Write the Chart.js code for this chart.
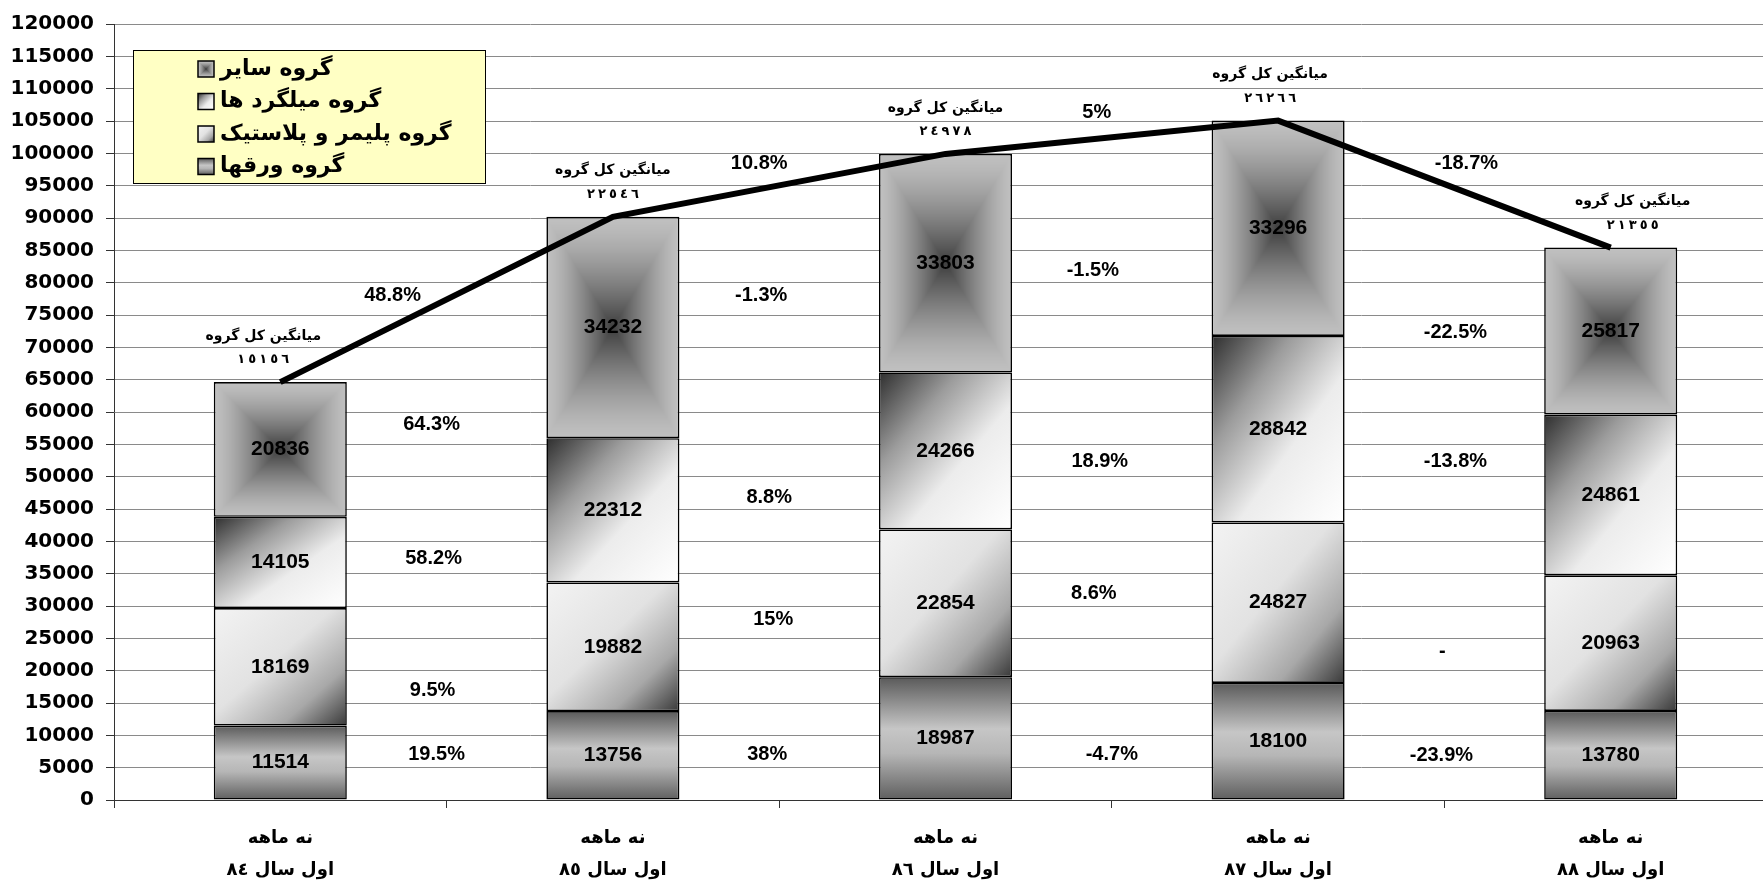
<!DOCTYPE html>
<html>
<head>
<meta charset="utf-8">
<script src="https://cdn.jsdelivr.net/npm/chart.js@4.4.1/dist/chart.umd.min.js"></script>
<style>
    html, body { margin: 0; padding: 0; background: #fff; overflow: hidden; }
    #grafico-wrap { position: relative; width: 1790px; height: 883px; }
</style>
</head>
<body>
<div id="grafico-wrap"><canvas id="grafico"></canvas></div>
<script>
// Categorias (periodos)
var periodYears = ['٨٤', '٨٥', '٨٦', '٨٧', '٨٨'];
var periodLine1 = 'نه ماهه';
var periodLine2 = 'اول سال';

// Series apiladas (de abajo hacia arriba)
var varaghValues = [11514, 13756, 18987, 18100, 13780];
var polymerValues = [18169, 19882, 22854, 24827, 20963];
var milgardValues = [14105, 22312, 24266, 28842, 24861];
var sayerValues = [20836, 34232, 33803, 33296, 25817];
var seriesNames = ['گروه ورقها', 'گروه پلیمر و پلاستیک', 'گروه میلگرد ها', 'گروه سایر'];

// Promedio del grupo encima de cada barra
var averageTitle = 'میانگین کل گروه';
var averageValues = [15156, 22546, 24978, 26266, 21355];

// Crecimiento entre periodos
var growthAverage = ['48.8%', '10.8%', '5%', '-18.7%'];
var growthSayer = ['64.3%', '-1.3%', '-1.5%', '-22.5%'];
var growthMilgard = ['58.2%', '8.8%', '18.9%', '-13.8%'];
var growthPolymer = ['9.5%', '15%', '8.6%', '-'];
var growthVaragh = ['19.5%', '38%', '-4.7%', '-23.9%'];

// Eje Y
var yMin = 0;
var yMax = 120000;
var yStep = 5000;

var barSeries = [varaghValues, polymerValues, milgardValues, sayerValues];
var fillKinds = ['band', 'lightDark', 'darkLight', 'pyramid'];
var totals = varaghValues.map(function (v, i) {
    return v + polymerValues[i] + milgardValues[i] + sayerValues[i];
});

// posiciones de los textos de crecimiento (altura en unidades del eje, desplazamiento en px)
var growthRows = [
    { texts: growthAverage, at: [78000, 98500, 106300, 98500], shift: [-54, -20, -15, 22] },
    { texts: growthSayer, at: [58100, 78000, 81850, 72300], shift: [-15, -18, -19, 11] },
    { texts: growthMilgard, at: [37300, 46800, 52400, 52400], shift: [-13, -10, -12, 11] },
    { texts: growthPolymer, at: [17000, 27900, 31900, 22900], shift: [-14, -6, -18, -2] },
    { texts: growthVaragh, at: [7100, 7100, 7100, 6900], shift: [-10, -12, 0, -3] }
];
var averageShift = [-17, 0, 0, -8, 22];

var VALUE_FONT = 'bold 21px "Liberation Sans", Arial, sans-serif';
var PCT_FONT = 'bold 20px "Liberation Sans", Arial, sans-serif';
var AR_FAMILY = '"DejaVu Sans", sans-serif';

function toArabicDigits(n) {
    return String(n).replace(/\d/g, function (d) { return '٠١٢٣٤٥٦٧٨٩'[d]; });
}

function addStops(g, stops) {
    stops.forEach(function (s) { g.addColorStop(s[0], s[1]); });
    return g;
}

function pyramidCanvas(w, h) {
    var cw = Math.max(1, Math.ceil(w)), ch = Math.max(1, Math.ceil(h));
    var off = document.createElement('canvas');
    off.width = cw;
    off.height = ch;
    var octx = off.getContext('2d');
    var img = octx.createImageData(cw, ch);
    var cx = w / 2, cy = h / 2;
    for (var y = 0; y < ch; y++) {
        for (var x = 0; x < cw; x++) {
            var t = 1 - Math.max(Math.abs(x + 0.5 - cx) / cx, Math.abs(y + 0.5 - cy) / cy);
            if (t < 0) t = 0;
            var v = Math.round(192 - 130 * Math.pow(t, 1.4));
            var p = (y * cw + x) * 4;
            img.data[p] = v; img.data[p + 1] = v; img.data[p + 2] = v; img.data[p + 3] = 255;
        }
    }
    octx.putImageData(img, 0, 0);
    return off;
}

function makeFill(c, kind, x0, y0, w, h) {
    if (kind === 'band') {
        return addStops(c.createLinearGradient(0, y0, 0, y0 + h),
            [[0, '#5a5a5a'], [0.42, '#c6c6c6'], [0.62, '#b6b6b6'], [1, '#5e5e5e']]);
    }
    if (kind === 'lightDark' || kind === 'darkLight') {
        var d = 2 * w * h / (w * w + h * h);
        var g = c.createLinearGradient(x0, y0, x0 + h * d, y0 + w * d);
        if (kind === 'lightDark') {
            return addStops(g, [[0, '#f3f3f3'], [0.45, '#e2e2e2'], [0.75, '#a8a8a8'], [1, '#383838']]);
        }
        return addStops(g, [[0, '#2e2e2e'], [0.3, '#9c9c9c'], [0.6, '#ececec'], [1, '#ffffff']]);
    }
    var pat = c.createPattern(pyramidCanvas(w, h), 'no-repeat');
    pat.setTransform(new DOMMatrix([1, 0, 0, 1, x0, y0]));
    return pat;
}

function segmentFill(ctxInfo, k) {
    var chart = ctxInfo.chart;
    if (ctxInfo.type !== 'data' || !chart.chartArea || !chart.scales.x) return '#b8b8b8';
    var xs = chart.scales.x, ys = chart.scales.y;
    var i = ctxInfo.dataIndex;
    var base = 0;
    for (var j = 0; j < k; j++) base += barSeries[j][i];
    var w = (xs.getPixelForValue(1) - xs.getPixelForValue(0)) * 0.4;
    var x0 = xs.getPixelForValue(i) - w / 2;
    var top = ys.getPixelForValue(base + barSeries[k][i]);
    var bottom = ys.getPixelForValue(base);
    return makeFill(chart.ctx, fillKinds[k], x0, top, w, bottom - top);
}

// digitos separados, como en el original
function drawSpacedDigits(c, text, x, y, pitch) {
    var chars = text.split('');
    var start = x - pitch * (chars.length - 1) / 2;
    chars.forEach(function (ch, i) {
        c.fillText(ch, start + i * pitch, y);
    });
}

// Textos: valores, promedios, crecimientos y leyenda
var etiquetasPlugin = {
    id: 'etiquetas',
    afterDatasetsDraw: function (chart) {
        var c = chart.ctx, xs = chart.scales.x, ys = chart.scales.y;
        c.save();
        c.fillStyle = '#000';
        c.textAlign = 'center';
        c.textBaseline = 'middle';

        // valores dentro de las barras
        c.font = VALUE_FONT;
        chart.data.datasets.forEach(function (ds, d) {
            if (ds.type === 'line') return;
            chart.getDatasetMeta(d).data.forEach(function (bar, i) {
                c.fillText(String(ds.data[i]), bar.x, (bar.y + bar.base) / 2);
            });
        });

        // crecimientos entre barras
        c.font = PCT_FONT;
        growthRows.forEach(function (row) {
            row.texts.forEach(function (txt, i) {
                var x = xs.getPixelForValue(i + 0.5) + row.shift[i];
                c.fillText(txt, x, ys.getPixelForValue(row.at[i]));
            });
        });

        // promedio del grupo
        averageValues.forEach(function (v, i) {
            var x = xs.getPixelForValue(i) + averageShift[i];
            var top = ys.getPixelForValue(totals[i]);
            c.font = 'bold 14px ' + AR_FAMILY;
            c.fillText(averageTitle, x, top - 46);
            c.font = 'bold 13px ' + AR_FAMILY;
            drawSpacedDigits(c, toArabicDigits(v), x, top - 22, 11);
        });
        c.restore();
    },
    afterDraw: function (chart) {
        // leyenda con fondo amarillo
        var c = chart.ctx;
        var box = { x: 133, y: 50, w: 352, h: 133 };
        c.save();
        c.fillStyle = '#ffffc4';
        c.fillRect(box.x, box.y, box.w, box.h);
        c.strokeStyle = '#000';
        c.lineWidth = 1;
        c.strokeRect(box.x + 0.5, box.y + 0.5, box.w, box.h);
        c.font = 'bold 22px ' + AR_FAMILY;
        c.textAlign = 'left';
        c.textBaseline = 'middle';
        for (var r = 0; r < 4; r++) {
            var k = 3 - r;
            var cy = box.y + 19 + r * 32.5;
            var sx = 198, sy = cy - 8, s = 16;
            c.fillStyle = makeFill(c, fillKinds[k], sx, sy, s, s);
            c.fillRect(sx, sy, s, s);
            c.strokeStyle = '#000';
            c.lineWidth = 1.5;
            c.strokeRect(sx, sy, s, s);
            c.fillStyle = '#000';
            c.fillText(seriesNames[k], 220, cy);
        }
        c.restore();
    }
};

var datasets = [{
    type: 'line',
    label: averageTitle,
    data: totals,
    borderColor: '#000',
    borderWidth: 6,
    pointRadius: 0,
    fill: false,
    tension: 0,
    stack: 'total',
    order: 0
}];
barSeries.forEach(function (values, k) {
    datasets.push({
        type: 'bar',
        label: seriesNames[k],
        data: values,
        backgroundColor: function (ctxInfo) { return segmentFill(ctxInfo, k); },
        borderColor: '#000',
        borderWidth: 1.6,
        borderSkipped: false,
        barPercentage: 0.4,
        categoryPercentage: 1,
        stack: 'grupos',
        order: 1
    });
});

var ctx = document.getElementById('grafico').getContext('2d');
var myChart = new Chart(ctx, {
    type: 'bar',
    data: {
        labels: periodYears.map(function (y) { return [periodLine1, periodLine2 + ' ' + y]; }),
        datasets: datasets
    },
    plugins: [etiquetasPlugin],
    options: {
        responsive: true,
        maintainAspectRatio: false,
        animation: false,
        events: [],
        layout: { padding: { left: 0, right: 13, top: 23, bottom: 0 } },
        plugins: {
            legend: { display: false },
            tooltip: { enabled: false }
        },
        scales: {
            x: {
                stacked: true,
                offset: true,
                grid: { drawOnChartArea: false, offset: true, tickLength: 8, tickColor: '#333' },
                border: { color: '#333', width: 1 },
                ticks: {
                    color: '#000',
                    font: { family: AR_FAMILY, size: 18, weight: 'bold', lineHeight: 1.75 },
                    padding: 15,
                    maxRotation: 0,
                    autoSkip: false
                },
                afterFit: function (scale) { scale.height = 83; }
            },
            y: {
                stacked: true,
                min: yMin,
                max: yMax,
                grid: { color: '#8a8a8a', tickLength: 8, tickColor: '#333' },
                border: { color: '#333', width: 1 },
                ticks: {
                    stepSize: yStep,
                    color: '#000',
                    padding: 12,
                    font: { family: '"DejaVu Sans", sans-serif', size: 20, weight: 'bold' },
                    callback: function (v) { return String(v); }
                },
                afterFit: function (scale) { scale.width = 114; }
            }
        }
    }
});
</script>
</body>
</html>
